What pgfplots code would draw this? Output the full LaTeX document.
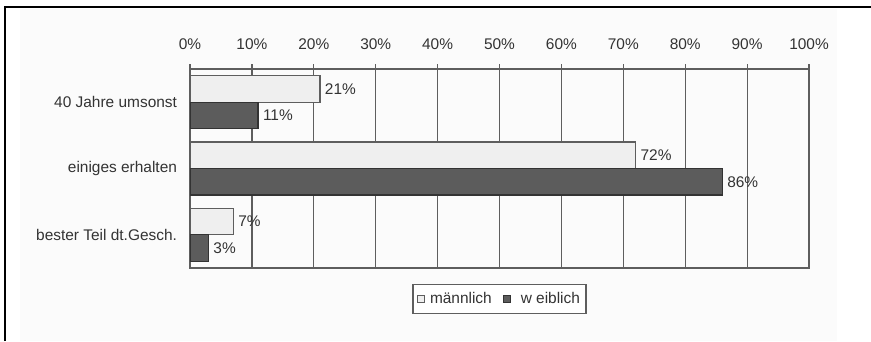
\documentclass[border=0pt]{standalone}
\usepackage{fontspec}
\setmainfont{Liberation Sans}
\usepackage{pgfplots}
\pgfplotsset{compat=1.18}
\definecolor{txt}{HTML}{333333}
\definecolor{gridc}{HTML}{5E5E5E}
\definecolor{malefill}{HTML}{EFEFEF}
\definecolor{femfill}{HTML}{5C5C5C}
\definecolor{bgc}{HTML}{FBFBFB}
\begin{document}
\begin{tikzpicture}[x=1bp,y=1bp]
\path[use as bounding box] (0,0) rectangle (871,341);
\fill[bgc] (20,0) rectangle (837,332);
\draw[black,line width=2.2bp] (5,0) -- (5,334) -- (871,334);
\begin{axis}[
  at={(190bp,73bp)}, anchor=south west,
  scale only axis, width=619bp, height=199bp,
  xbar, bar width=0.4,
  xmin=0, xmax=100,
  ymin=-0.5, ymax=2.5,
  xtick={0,10,...,100},
  xticklabel={\pgfmathprintnumber{\tick}\%},
  xticklabel pos=upper,
  xtick pos=upper,
  xmajorgrids,
  grid style={gridc, line width=1.2bp},
  axis line style={gridc, line width=1.2bp},
  tick style={gridc, line width=1.2bp},
  major tick length=4.5bp,
  tick align=outside,
  ytick={0,1,2},
  yticklabels={bester Teil dt.Gesch., einiges erhalten, 40 Jahre umsonst},
  ytick pos=left,
  extra y ticks={-0.5,0.5,1.5,2.5},
  extra y tick labels={},
  extra y tick style={major tick length=4.5bp, tick style={gridc,line width=1.2bp}, grid=none},
  ytick style={draw=none},
  yticklabel style={xshift=-5bp},
  xticklabel style={yshift=11bp},
  /pgf/number format/assume math mode=true,
  ticklabel style={font=\fontsize{15.5}{18}\selectfont, text=txt},
  nodes near coords={\pgfmathprintnumber{\pgfplotspointmeta}\%},
  nodes near coords style={font=\fontsize{15.5}{18}\selectfont, text=txt, anchor=west, xshift=1bp},
  legend style={at={(0.5,-0.08)}, anchor=north, legend columns=2,
    draw=gridc, line width=1.2bp, fill=white,
    font=\fontsize{15.5}{18}\selectfont, text=txt,
    /tikz/every even column/.append style={column sep=9bp},
    inner xsep=4bp, inner ysep=6bp},
  legend image code/.code={\draw[#1, line width=1bp] (0bp,-3.5bp) rectangle (7bp,3.5bp);},
]
\addplot[bar shift=0.2, fill=malefill, draw=gridc, line width=1.2bp] coordinates {(7,0) (72,1) (21,2)};
\addplot[bar shift=-0.2, fill=femfill, draw=black!80, line width=1.2bp] coordinates {(3,0) (86,1) (11,2)};
\legend{\hspace{3bp}männlich, \hspace{8bp}w eiblich}
\end{axis}
\end{tikzpicture}
\end{document}
